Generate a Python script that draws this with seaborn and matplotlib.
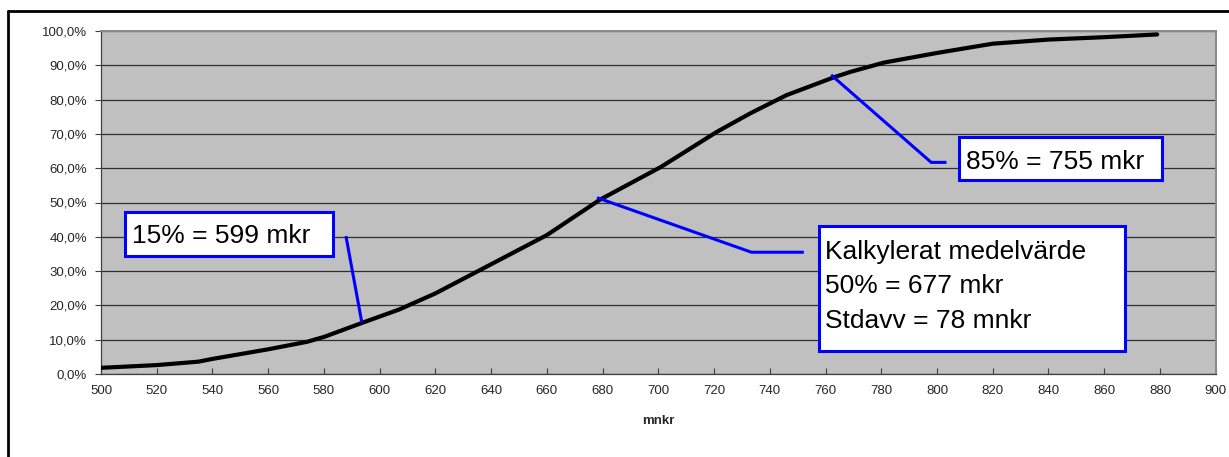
import matplotlib
matplotlib.use("Agg")
import matplotlib.pyplot as plt
import seaborn as sns
import pandas as pd
from matplotlib.patches import Rectangle
from matplotlib.lines import Line2D
from matplotlib.ticker import FuncFormatter

# ---- data ----
cost_mnkr = [500, 520, 535, 540, 560, 574, 580, 594, 607, 620, 640, 660, 679,
             701, 721, 733, 746, 763, 769, 781, 800, 820, 840, 860, 879]
cum_prob_pct = [1.8, 2.6, 3.6, 4.4, 7.2, 9.4, 10.8, 15.0, 18.8, 23.5, 32.0, 40.5, 50.8,
                60.4, 70.6, 76.0, 81.3, 86.5, 88.1, 90.8, 93.6, 96.3, 97.5, 98.2, 99.0]

x_ticks = list(range(500, 901, 20))
y_ticks = list(range(0, 101, 10))
x_label = "mnkr"

# annotations: leader polylines in data coords, label lines
leader_15_x = [587.9, 593.6]
leader_15_y = [40.2, 15.0]
leader_50_x = [678.0, 733.4, 752.2]
leader_50_y = [51.4, 35.5, 35.5]
leader_85_x = [762.0, 797.9, 803.4]
leader_85_y = [87.2, 61.7, 61.7]
label_15 = ["15% = 599 mkr"]
label_50 = ["Kalkylerat medelvärde", "50% = 677 mkr", "Stdavv = 78 mnkr"]
label_85 = ["85% = 755 mkr"]

sns.set_style("ticks")
plt.rcParams["font.family"] = ["Liberation Sans", "DejaVu Sans"]

W, H = 1229, 457
fig = plt.figure(figsize=(W / 100, H / 100), dpi=100)
L, R, T, B = 101, 1215.7, 31, 374
ax = fig.add_axes([L / W, 1 - B / H, (R - L) / W, (B - T) / H])
ax.set_facecolor("#C0C0C0")

df = pd.DataFrame({"x": cost_mnkr, "y": cum_prob_pct})
sns.lineplot(data=df, x="x", y="y", ax=ax, color="black", linewidth=3.0,
             sort=False, solid_joinstyle="round", solid_capstyle="round", zorder=3)

ax.set_xlim(500, 900)
ax.set_ylim(0, 100)
ax.set_xticks(x_ticks)
ax.set_yticks(y_ticks)
ax.yaxis.set_major_formatter(FuncFormatter(lambda v, p: f"{v:.1f}%".replace(".", ",")))
ax.tick_params(axis="x", direction="in", length=4, width=0.8, color="#404040",
               labelsize=9.5, pad=8)
ax.tick_params(axis="y", direction="out", length=4, width=0.8, color="#404040",
               labelsize=9.5, pad=6)
ax.grid(axis="y", color="#303030", linewidth=0.9, zorder=1)
ax.grid(axis="x", visible=False)
ax.set_axisbelow(True)
ax.set_xlabel(x_label, fontsize=9.5, fontweight="bold", labelpad=13)
ax.set_ylabel("")

for s in ["left", "bottom"]:
    ax.spines[s].set_color("#404040")
    ax.spines[s].set_linewidth(0.9)
for s in ["top", "right"]:
    ax.spines[s].set_color("#888888")
    ax.spines[s].set_linewidth(1.4)

blue = "#0000FF"
for xs, ys in [(leader_15_x, leader_15_y), (leader_50_x, leader_50_y),
               (leader_85_x, leader_85_y)]:
    ax.plot(xs, ys, color=blue, linewidth=2.2, zorder=4, solid_capstyle="butt")

def px_to_ax(px, py):
    return (px - L) / (R - L), (B - py) / (B - T)

def box(x0, y0, x1, y1, lines, tx, baselines):
    ax0, ay1 = px_to_ax(x0, y0)
    ax1, ay0 = px_to_ax(x1, y1)
    ax.add_patch(Rectangle((ax0, ay0), ax1 - ax0, ay1 - ay0, transform=ax.transAxes,
                           facecolor="white", edgecolor=blue, linewidth=2.2,
                           zorder=5, clip_on=False))
    for line, bl in zip(lines, baselines):
        tx_a, ty_a = px_to_ax(tx, bl)
        ax.text(tx_a, ty_a, line, transform=ax.transAxes, fontsize=19,
                ha="left", va="baseline", color="black", zorder=6)

box(125, 211.7, 333, 256, label_15, 131.5, [243])
box(959.3, 137.3, 1161.7, 180, label_85, 965.5, [169])
box(819, 225.7, 1125, 350.7, label_50, 825, [258.5, 293, 327.5])

# outer chart frame (only top and left edges visible in the image)
fig.add_artist(Line2D([8 / W, 8 / W], [1 - 11 / H, -0.05], transform=fig.transFigure,
                      color="black", linewidth=2.0))
fig.add_artist(Line2D([8 / W, 1.05], [1 - 11 / H, 1 - 11 / H], transform=fig.transFigure,
                      color="black", linewidth=2.0))

fig.savefig("out.png", dpi=100, facecolor="white")
